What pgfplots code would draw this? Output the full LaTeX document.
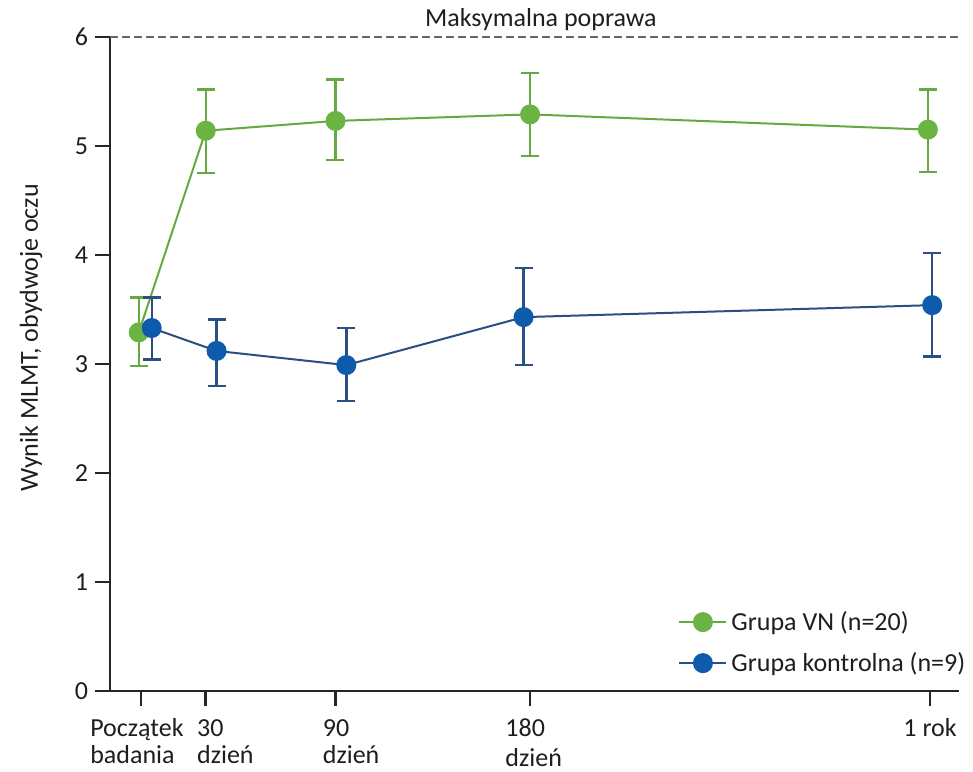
\documentclass[border=0pt]{standalone}
\usepackage{fontspec}
\setmainfont{Carlito}
\usepackage{pgfplots}
\usepackage{pgfplotstable}
\pgfplotsset{compat=1.18}

\definecolor{vngreen}{HTML}{6BB443}
\definecolor{vngreenline}{HTML}{66A842}
\definecolor{ctrlblue}{HTML}{0D5BAA}
\definecolor{ctrlbline}{HTML}{2B4F82}
\definecolor{txt}{HTML}{1E1E1E}
\definecolor{refgray}{HTML}{666666}
\newcommand\chartfont{\fontsize{13}{15.5}\selectfont}

% MLMT score (both eyes): mean, upper and lower error
\pgfplotstableread{
x    y     ep    em
-1   3.29  0.32  0.31
30   5.14  0.38  0.39
90   5.23  0.38  0.36
180  5.29  0.38  0.38
364  5.15  0.37  0.39
}\vngroup

\pgfplotstableread{
x    y     ep    em
5    3.33  0.28  0.29
35   3.12  0.29  0.32
95   2.99  0.34  0.33
177  3.43  0.45  0.44
366  3.54  0.48  0.47
}\ctrlgroup

\tikzset{tl/.style={anchor=base west, inner sep=0pt, font=\chartfont, text=txt}}

\begin{document}
\begin{tikzpicture}
\useasboundingbox (-55pt,-40pt) rectangle (431.5pt,345.5pt);
\begin{axis}[
  at={(0,0)}, anchor=south west,
  scale only axis, width=424.5pt, height=327pt,
  xmin=-14.3, xmax=378.4, ymin=0, ymax=6,
  axis x line=bottom, axis y line=left,
  axis line style={line width=1.3pt, black!85, -},
  xtick={0,30,90,180,365},
  xticklabels={},
  ytick={0,1,2,3,4,5,6},
  yticklabel style={font=\chartfont, text=txt},
  tick style={line width=1.3pt, black!85},
  tick align=outside, major tick length=7.5pt,
  /pgf/number format/assume math mode=true,
  ylabel={Wynik MLMT, obydwoje oczu},
  ylabel style={font=\chartfont, text=txt, at={(axis description cs:-0.093,0.54)}, anchor=center},
  clip=false,
  legend style={draw=none, fill=none, font=\chartfont, text=txt,
    at={(axis description cs:0.662,0.135)}, anchor=north west,
    row sep=5.5pt},
  legend cell align=left,
  legend image code/.code={\draw[mark repeat=2, mark phase=2, #1] plot coordinates {(0pt,0pt) (11.75pt,0pt) (23.5pt,0pt)};},
]
% ceiling of the scale
\addplot[forget plot, refgray, line width=1pt, dash pattern=on 4pt off 2pt]
  coordinates {(-14.3,6) (378.4,6)};

\addplot[color=vngreenline, line width=1pt, mark=*, mark size=4.5pt,
  mark options={solid, fill=vngreen, draw=vngreen},
  error bars/.cd, y dir=both, y explicit,
  error bar style={line width=1.2pt, color=vngreenline},
  error mark options={rotate=90, line width=1.2pt, mark size=4.5pt, color=vngreenline}]
  table[x=x, y=y, y error plus=ep, y error minus=em] {\vngroup};
\addlegendentry{Grupa VN (n=20)}

\addplot[color=ctrlbline, line width=1pt, mark=*, mark size=4.5pt,
  mark options={solid, fill=ctrlblue, draw=ctrlblue},
  error bars/.cd, y dir=both, y explicit,
  error bar style={line width=1.2pt, color=ctrlbline},
  error mark options={rotate=90, line width=1.2pt, mark size=4.5pt, color=ctrlbline}]
  table[x=x, y=y, y error plus=ep, y error minus=em] {\ctrlgroup};
\addlegendentry{Grupa kontrolna (n=9)}

\node[font=\chartfont, text=txt, anchor=base] at (axis cs:185,6.10) {Maksymalna poprawa};

% time-point labels under the ticks
\node[tl, xshift=-25.5pt, yshift=-22.5pt] at (axis cs:0,0) {Początek};
\node[tl, xshift=-25.5pt, yshift=-36pt] at (axis cs:0,0) {badania};
\node[tl, xshift=-4.5pt, yshift=-22.5pt] at (axis cs:30,0) {30};
\node[tl, xshift=-4.5pt, yshift=-36pt] at (axis cs:30,0) {dzień};
\node[tl, xshift=-6.5pt, yshift=-22.5pt] at (axis cs:90,0) {90};
\node[tl, xshift=-6.5pt, yshift=-36pt] at (axis cs:90,0) {dzień};
\node[tl, xshift=-12.5pt, yshift=-22.5pt] at (axis cs:180,0) {180};
\node[tl, xshift=-12.5pt, yshift=-37.5pt] at (axis cs:180,0) {dzień};
\node[tl, xshift=-13.5pt, yshift=-22.5pt] at (axis cs:365,0) {1 rok};
\end{axis}
\end{tikzpicture}
\end{document}
